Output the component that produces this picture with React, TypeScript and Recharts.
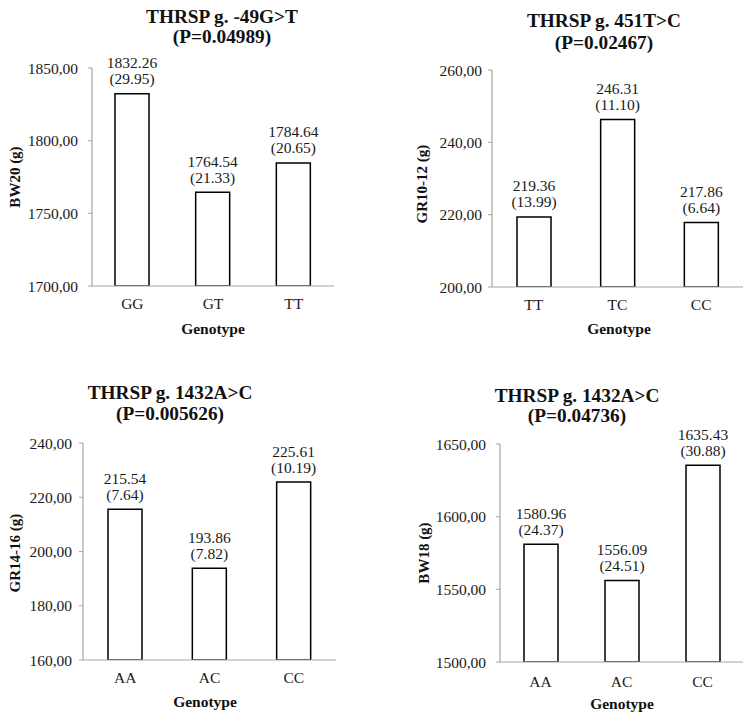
import React from 'react';
import { BarChart, Bar, XAxis, YAxis, LabelList } from 'recharts';

// panel 1: BW20
const genotypes1 = ['GG', 'GT', 'TT'];
const means1 = [1832.26, 1764.54, 1784.64];
const sds1 = [29.95, 21.33, 20.65];
const ticks1 = [1700, 1750, 1800, 1850];

// panel 2: GR10-12
const genotypes2 = ['TT', 'TC', 'CC'];
const means2 = [219.36, 246.31, 217.86];
const sds2 = [13.99, 11.1, 6.64];
const ticks2 = [200, 220, 240, 260];

// panel 3: GR14-16
const genotypes3 = ['AA', 'AC', 'CC'];
const means3 = [215.54, 193.86, 225.61];
const sds3 = [7.64, 7.82, 10.19];
const ticks3 = [160, 180, 200, 220, 240];

// panel 4: BW18
const genotypes4 = ['AA', 'AC', 'CC'];
const means4 = [1580.96, 1556.09, 1635.43];
const sds4 = [24.37, 24.51, 30.88];
const ticks4 = [1500, 1550, 1600, 1650];

const titles = [
  ['THRSP g. -49G>T', '(P=0.04989)'],
  ['THRSP g. 451T>C', '(P=0.02467)'],
  ['THRSP g. 1432A>C', '(P=0.005626)'],
  ['THRSP g. 1432A>C', '(P=0.04736)'],
];
const yTitles = ['BW20 (g)', 'GR10-12 (g)', 'GR14-16 (g)', 'BW18 (g)'];
const xTitle = 'Genotype';

const FONT = '"Liberation Serif", "Times New Roman", serif';
const AXIS = '#a6a6a6';

const build = (cats: string[], means: number[], sds: number[]) =>
  cats.map((g, i) => ({ g, mean: means[i], sd: sds[i] }));

const panels = [
  { data: build(genotypes1, means1, sds1), ticks: ticks1, axisX: 92, right: 334, top: 68, bottom: 286, yGap: 10, xGap: 12,
    title: { x: 222, y1: 16, y2: 36 }, yt: { x: 15, y: 177 }, xt: { x: 213, y: 328 } },
  { data: build(genotypes2, means2, sds2), ticks: ticks2, axisX: 492, right: 743, top: 70, bottom: 287, yGap: 6, xGap: 12,
    title: { x: 604, y1: 20, y2: 42 }, yt: { x: 422, y: 184 }, xt: { x: 619, y: 328 } },
  { data: build(genotypes3, means3, sds3), ticks: ticks3, axisX: 83, right: 336, top: 443, bottom: 660, yGap: 7, xGap: 12,
    title: { x: 170, y1: 392, y2: 413 }, yt: { x: 15, y: 553 }, xt: { x: 205, y: 701 } },
  { data: build(genotypes4, means4, sds4), ticks: ticks4, axisX: 500, right: 743, top: 444, bottom: 662, yGap: 10, xGap: 14,
    title: { x: 577, y1: 395, y2: 415 }, yt: { x: 424, y: 553 }, xt: { x: 622, y: 703 } },
];

const YW = 80;
const TOPM = 60;
const XH = 40;

function Panel({ p }: { p: (typeof panels)[number] }) {
  const left = p.axisX - YW;
  const top = p.top - TOPM;
  const width = p.right - left + 5;
  const height = p.bottom - top + XH;
  const fmt = (v: number) => v.toFixed(2).replace('.', ',');
  const renderLabel = (props: any) => {
    const { x, y, width: w, index } = props;
    const d = p.data[index];
    const cx = x + w / 2;
    return (
      <g>
        <text x={cx} y={y - 31} textAnchor="middle" dominantBaseline="central" fontSize={15.5} fontFamily={FONT} fill="#1a1a1a">
          {d.mean.toFixed(2)}
        </text>
        <text x={cx} y={y - 15} textAnchor="middle" dominantBaseline="central" fontSize={15.5} fontFamily={FONT} fill="#1a1a1a">
          ({d.sd.toFixed(2)})
        </text>
      </g>
    );
  };
  return (
    <div style={{ position: 'absolute', left, top }}>
      <BarChart width={width} height={height} data={p.data} margin={{ top: TOPM, right: 5, bottom: 0, left: 0 }}>
        <XAxis
          dataKey="g"
          height={XH}
          tickLine={false}
          tickSize={0}
          tickMargin={p.xGap}
          axisLine={{ stroke: AXIS, strokeWidth: 1.2 }}
          tick={{ fontSize: 15.5, fontFamily: FONT, fill: '#1a1a1a' }}
        />
        <YAxis
          width={YW}
          domain={[p.ticks[0], p.ticks[p.ticks.length - 1]]}
          ticks={p.ticks}
          allowDataOverflow
          tickFormatter={fmt}
          tickSize={4}
          tickMargin={p.yGap}
          tickLine={{ stroke: AXIS }}
          axisLine={{ stroke: AXIS, strokeWidth: 1.2 }}
          tick={{ fontSize: 15.5, fontFamily: FONT, fill: '#1a1a1a' }}
        />
        <Bar dataKey="mean" fill="#ffffff" stroke="#000000" strokeWidth={1.5} barSize={34} isAnimationActive={false}>
          <LabelList dataKey="mean" content={renderLabel} />
        </Bar>
      </BarChart>
    </div>
  );
}

export default function App() {
  return (
    <div style={{ position: 'absolute', left: 0, top: 0, width: 754, height: 720, background: '#fff', overflow: 'hidden' }}>
      {panels.map((p, i) => (
        <Panel key={i} p={p} />
      ))}
      <svg width={754} height={720} style={{ position: 'absolute', left: 0, top: 0, pointerEvents: 'none' }}>
        {panels.map((p, i) => (
          <g key={i} fontFamily={FONT} fill="#111" fontWeight="bold">
            <text x={p.title.x} y={p.title.y1} textAnchor="middle" dominantBaseline="central" fontSize={19.3}>
              {titles[i][0]}
            </text>
            <text x={p.title.x} y={p.title.y2} textAnchor="middle" dominantBaseline="central" fontSize={19.3}>
              {titles[i][1]}
            </text>
            <text x={p.xt.x} y={p.xt.y} textAnchor="middle" dominantBaseline="central" fontSize={15.5}>
              {xTitle}
            </text>
            <text
              x={p.yt.x}
              y={p.yt.y}
              textAnchor="middle"
              dominantBaseline="central"
              fontSize={15}
              transform={`rotate(-90 ${p.yt.x} ${p.yt.y})`}
            >
              {yTitles[i]}
            </text>
          </g>
        ))}
      </svg>
    </div>
  );
}
